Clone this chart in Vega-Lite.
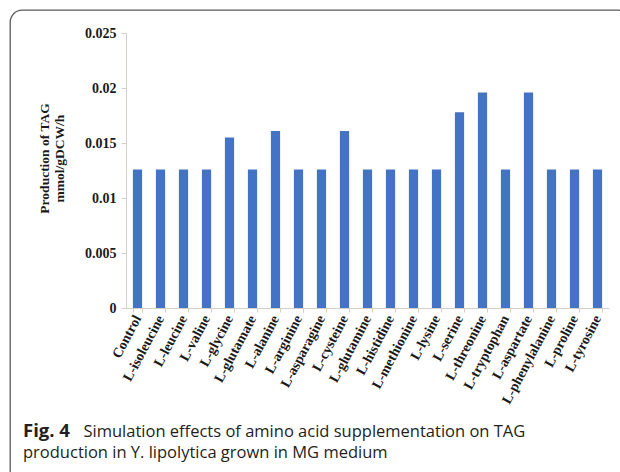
{
  "$schema": "https://vega.github.io/schema/vega-lite/v6.json",
  "autosize": {"type": "none"},
  "padding": {"left": 10, "top": 10, "right": 0, "bottom": 0},
  "width": 620,
  "height": 475,
  "background": "white",
  "config": {
    "view": {"stroke": "#5a5a5a", "strokeWidth": 1.3, "cornerRadius": 12},
    "axis": {"grid": false}
  },
  "title": {
    "text": "Fig. 4",
    "subtitle": "production in Y. lipolytica grown in MG medium",
    "orient": "bottom",
    "anchor": "start",
    "frame": "group",
    "dx": 13,
    "offset": -63,
    "font": "Open Sans",
    "fontSize": 18.5,
    "fontWeight": "bold",
    "color": "#231f20",
    "subtitleFont": "Open Sans",
    "subtitleFontSize": 16.5,
    "subtitleFontWeight": "normal",
    "subtitleColor": "#231f20",
    "subtitleLineHeight": 22,
    "subtitlePadding": 4.5
  },
  "data": {
    "values": [
      {"aa": "Control", "tag": 0.0126},
      {"aa": "L-isoleucine", "tag": 0.0126},
      {"aa": "L-leucine", "tag": 0.0126},
      {"aa": "L-valine", "tag": 0.0126},
      {"aa": "L-glycine", "tag": 0.0155},
      {"aa": "L-glutamate", "tag": 0.0126},
      {"aa": "L-alanine", "tag": 0.0161},
      {"aa": "L-arginine", "tag": 0.0126},
      {"aa": "L-asparagine", "tag": 0.0126},
      {"aa": "L-cysteine", "tag": 0.0161},
      {"aa": "L-glutamine", "tag": 0.0126},
      {"aa": "L-histidine", "tag": 0.0126},
      {"aa": "L-methionine", "tag": 0.0126},
      {"aa": "L-lysine", "tag": 0.0126},
      {"aa": "L-serine", "tag": 0.0178},
      {"aa": "L-threonine", "tag": 0.0196},
      {"aa": "L-tryptophan", "tag": 0.0126},
      {"aa": "L-aspartate", "tag": 0.0196},
      {"aa": "L-phenylalanine", "tag": 0.0126},
      {"aa": "L-proline", "tag": 0.0126},
      {"aa": "L-tyrosine", "tag": 0.0126}
    ]
  },
  "mark": {"type": "bar", "color": "#4472C4"},
  "encoding": {
    "x": {
      "field": "aa",
      "type": "nominal",
      "sort": null,
      "scale": {"range": [116, 599], "paddingInner": 0.6, "paddingOuter": 0.3},
      "axis": {
        "title": "Simulation effects of amino acid supplementation on TAG",
        "titleFont": "Open Sans",
        "titleFontSize": 16.5,
        "titleFontWeight": "normal",
        "titleColor": "#231f20",
        "titleX": 73,
        "titleY": 128,
        "titleAlign": "left",
        "titleAnchor": "start",
        "titleBaseline": "alphabetic",
        "titleAngle": 0,
        "orient": "bottom",
        "offset": -177,
        "domainColor": "#d4d0c8",
        "tickColor": "#d8cfb8",
        "tickSize": 4,
        "tickBand": "extent",
        "labelAngle": -62,
        "labelAlign": "right",
        "labelBaseline": "middle",
        "labelPadding": 4,
        "labelFont": "Liberation Serif",
        "labelFontWeight": "bold",
        "labelFontSize": 14,
        "labelColor": "#1a1a1a"
      }
    },
    "y": {
      "field": "tag",
      "type": "quantitative",
      "scale": {"domain": [0, 0.025], "nice": false, "range": [298, 23]},
      "axis": {
        "orient": "left",
        "offset": -116,
        "values": [0, 0.005, 0.01, 0.015, 0.02, 0.025],
        "format": "~g",
        "title": ["Production of TAG", "mmol/gDCW/h"],
        "titleFont": "Liberation Serif",
        "titleFontWeight": "bold",
        "titleFontSize": 13.5,
        "titleColor": "#1a1a1a",
        "titleY": 148,
        "titlePadding": 18,
        "domainColor": "#d4d0c8",
        "tickColor": "#d4d0c8",
        "tickSize": 5,
        "labelPadding": 5,
        "labelFont": "Liberation Serif",
        "labelFontWeight": "bold",
        "labelFontSize": 14,
        "labelColor": "#1a1a1a"
      }
    }
  }
}
